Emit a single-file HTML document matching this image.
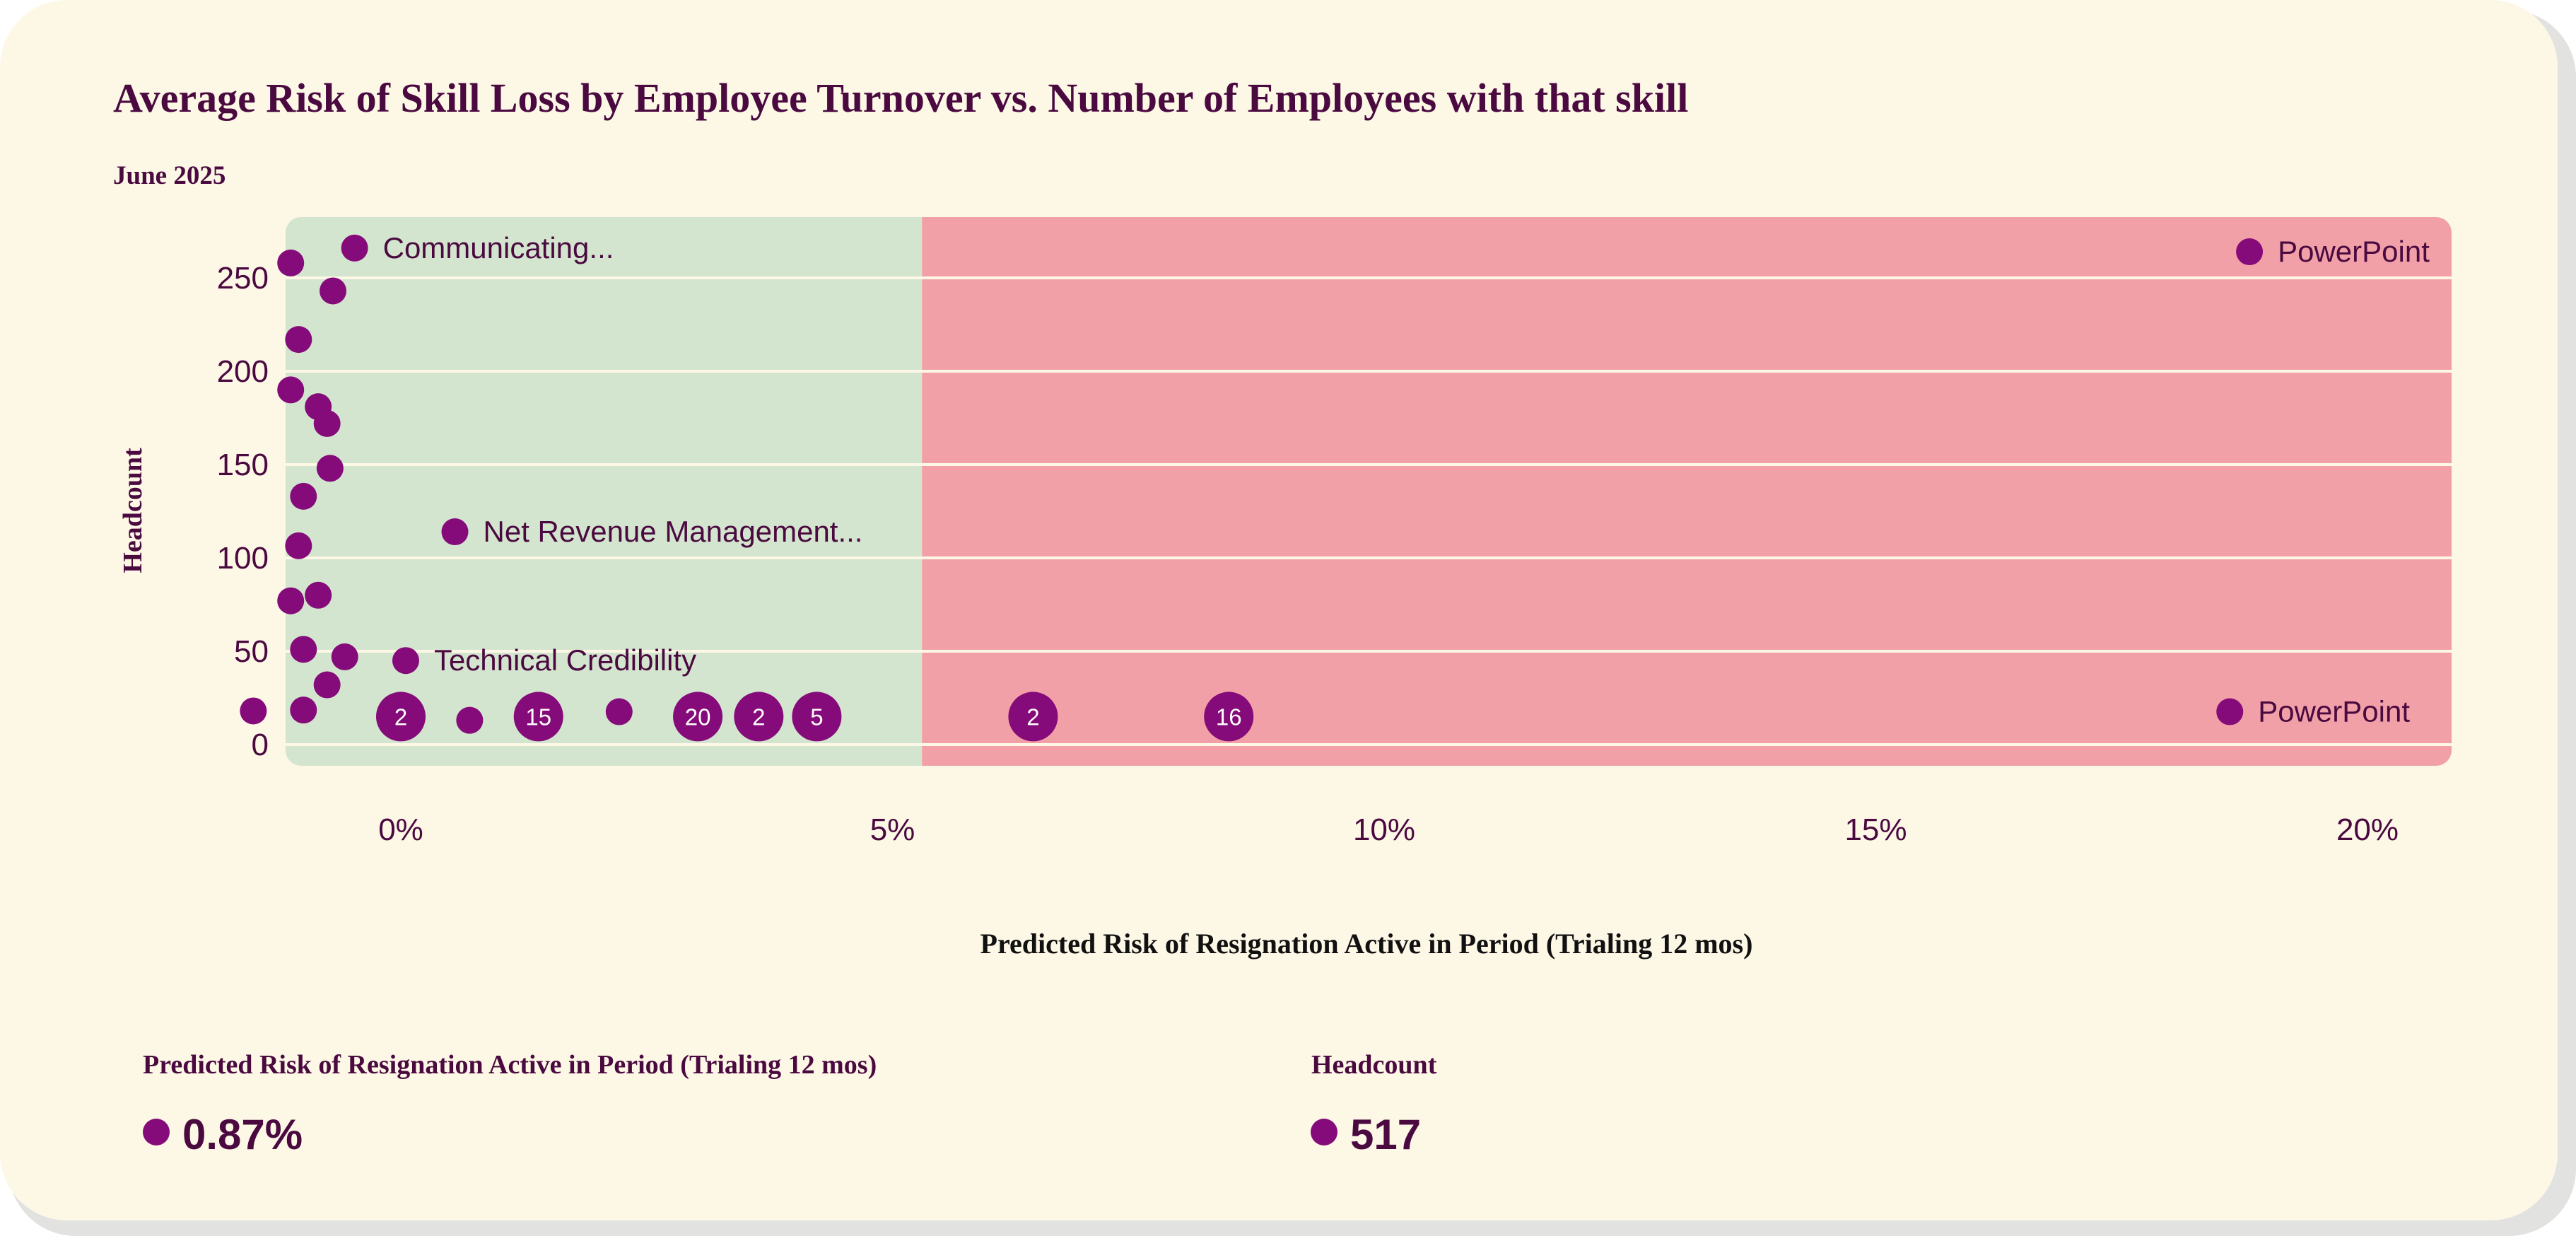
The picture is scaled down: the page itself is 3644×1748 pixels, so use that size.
<!DOCTYPE html>
<html><head><meta charset="utf-8"><style>
html,body{margin:0;padding:0;background:#fff;}
svg{display:block;}
</style></head><body>
<svg id="chart" width="3644" height="1748" viewBox="0 0 3644 1748" xmlns="http://www.w3.org/2000/svg">
<rect x="12" y="14" width="3632" height="1734" rx="95" fill="#e2e2e0"/>
<rect x="0" y="0" width="3618" height="1726" rx="95" fill="#fdf7e6"/>
<text x="160" y="158" font-family="Liberation Serif, serif" font-weight="bold" font-size="58" fill="#4a0a40">Average Risk of Skill Loss by Employee Turnover vs. Number of Employees with that skill</text>
<text x="160" y="260" font-family="Liberation Serif, serif" font-weight="bold" font-size="37" fill="#4a0a40">June 2025</text>
<g id="plot"></g>
<text transform="translate(200,722) rotate(-90)" text-anchor="middle" font-family="Liberation Serif, serif" font-weight="bold" font-size="38" fill="#4a0a40">Headcount</text>
<text x="1933" y="1348" text-anchor="middle" font-family="Liberation Serif, serif" font-weight="bold" font-size="40" fill="#111">Predicted Risk of Resignation Active in Period (Trialing 12 mos)</text>
<g>
<text x="202" y="1518" font-family="Liberation Serif, serif" font-weight="bold" font-size="38" fill="#4a0a40">Predicted Risk of Resignation Active in Period (Trialing 12 mos)</text>
<circle cx="221" cy="1601" r="19" fill="#850a7a"/>
<text x="258" y="1625" font-family="Liberation Sans, sans-serif" font-weight="bold" font-size="60" fill="#4a0a40">0.87%</text>
</g>
<g>
<text x="1855" y="1518" font-family="Liberation Serif, serif" font-weight="bold" font-size="38" fill="#4a0a40">Headcount</text>
<circle cx="1873" cy="1601" r="19" fill="#850a7a"/>
<text x="1910" y="1625" font-family="Liberation Sans, sans-serif" font-weight="bold" font-size="60" fill="#4a0a40">517</text>
</g>
</svg>
<script>
const riskValues = [-0.47,-1.12,-0.69,-1.04,-1.12,-0.84,-0.75,-0.72,-0.99,-1.04,0.55,-1.12,-0.84,-0.99,-0.57,0.05,-0.75,-1.5,-0.99,0,0.70,1.40,2.22,3.02,3.64,4.23,6.43,8.42,18.6,18.8];
const headcountValues = [266,258,243,217,190,181,172,148,133,106.5,114,77,80,51,47,45,32,18,18.5,15,13,15,17.6,15,15,15,15,15,17.6,264];
const pointLabels = ["Communicating...","","","","","","","","","","Net Revenue Management...","","","","","Technical Credibility","","","","","","","","","","","","","PowerPoint","PowerPoint"];
const bubbleCounts = [null,null,null,null,null,null,null,null,null,null,null,null,null,null,null,null,null,null,null,2,null,15,null,20,2,5,2,16,null,null];
const xTicks = [0,5,10,15,20];
const yTicks = [0,50,100,150,200,250];
const riskThreshold = 5.3;

const NS = "http://www.w3.org/2000/svg";
const plot = document.getElementById('plot');
const PL = 404, PR = 3468, PT = 307, PB = 1083;
function xs(v){ return 567 + 139.1 * v; }
function ys(v){ return 1053 - 2.64 * v; }
function mk(tag, attrs){ const e = document.createElementNS(NS, tag); for (const k in attrs) e.setAttribute(k, attrs[k]); plot.appendChild(e); return e; }

const clip = mk('clipPath', {id:'pc'});
const cr = document.createElementNS(NS,'rect');
cr.setAttribute('x',PL); cr.setAttribute('y',PT); cr.setAttribute('width',PR-PL); cr.setAttribute('height',PB-PT); cr.setAttribute('rx',22);
clip.appendChild(cr);

const g = mk('g', {'clip-path':'url(#pc)'});
const safe = document.createElementNS(NS,'rect');
safe.setAttribute('x',PL); safe.setAttribute('y',PT); safe.setAttribute('width',xs(riskThreshold)-PL); safe.setAttribute('height',PB-PT); safe.setAttribute('fill','#d4e5cf');


g.appendChild(safe);
const danger = document.createElementNS(NS,'rect');
danger.setAttribute('x',xs(riskThreshold)); danger.setAttribute('y',PT); danger.setAttribute('width',PR-xs(riskThreshold)); danger.setAttribute('height',PB-PT); danger.setAttribute('fill','#f2a0a8');


g.appendChild(danger);

yTicks.forEach(t => {
  const y = ys(t);
  const l = mk('line', {x1:PL, x2:PR, y1:y, y2:y, stroke:'#fdf7e6', 'stroke-width':4});
  
  
  const tx = mk('text', {x:380, y:y+15, 'text-anchor':'end', 'font-family':'Liberation Sans, sans-serif', 'font-size':44, fill:'#4a0a40'});
  tx.textContent = t;
  
  
});
xTicks.forEach(t => {
  const tx = mk('text', {x:xs(t), y:1188, 'text-anchor':'middle', 'font-family':'Liberation Sans, sans-serif', 'font-size':44, fill:'#4a0a40'});
  tx.textContent = t + '%';
  
  
});

riskValues.forEach((v, i) => {
  const cx = xs(v), cy = ys(headcountValues[i]);
  const big = bubbleCounts[i] != null;
  const c = mk('circle', {cx:cx, cy:cy, r: big ? 35 : 19, fill:'#850a7a'});
  
  
  if (big) {
    const t = mk('text', {x:cx, y:cy+12, 'text-anchor':'middle', 'font-family':'Liberation Sans, sans-serif', 'font-size':33, fill:'#fff'});
    t.textContent = bubbleCounts[i];
    
    
  }
  if (pointLabels[i]) {
    const t = mk('text', {x:cx+40, y:cy+14, 'font-family':'Liberation Sans, sans-serif', 'font-size':42, fill:'#4a0a40'});
    t.textContent = pointLabels[i];
    
    
  }
});
</script>
</body></html>
